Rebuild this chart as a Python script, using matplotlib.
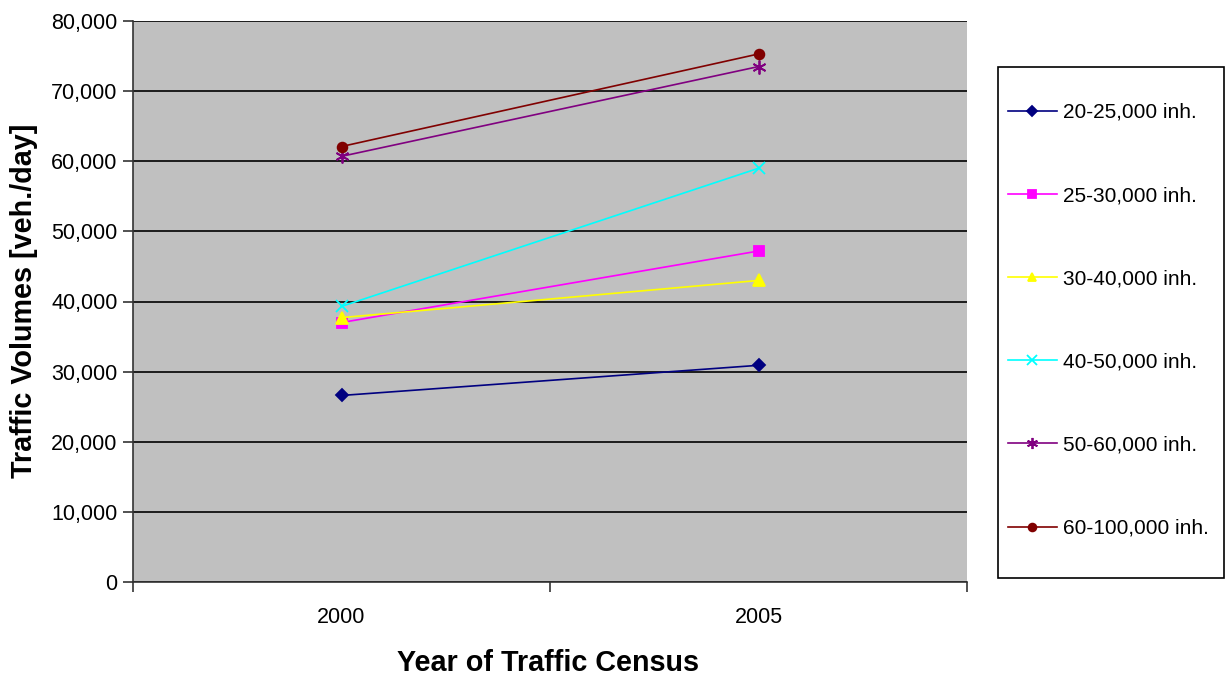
import matplotlib
matplotlib.use("Agg")
import matplotlib.pyplot as plt
from matplotlib.patches import Rectangle
from matplotlib.ticker import FuncFormatter, FixedLocator

plt.rcParams['font.family'] = ['Liberation Sans', 'DejaVu Sans']

years = ["2000", "2005"]
series_labels = ["20-25,000 inh.", "25-30,000 inh.", "30-40,000 inh.",
                 "40-50,000 inh.", "50-60,000 inh.", "60-100,000 inh."]
vol_20_25 = [26600, 30900]
vol_25_30 = [37000, 47200]
vol_30_40 = [37700, 43000]
vol_40_50 = [39300, 59000]
vol_50_60 = [60700, 73500]
vol_60_100 = [62100, 75300]
series_values = [vol_20_25, vol_25_30, vol_30_40, vol_40_50, vol_50_60, vol_60_100]

colors = ["#000080", "#FF00FF", "#FFFF00", "#00FFFF", "#800080", "#800000"]
markers = ["D", "s", "^", "x", (6, 2, 0), "o"]
msizes = [6, 7, 8, 9, 10, 7]

W, H = 1226, 678
fig = plt.figure(figsize=(W / 100, H / 100), dpi=100)
fig.patch.set_facecolor("white")
ax = fig.add_axes([133 / W, 1 - 582 / H, (967 - 133) / W, (582 - 21) / H])
ax.set_facecolor("#C0C0C0")

x = list(range(len(years)))
handles = []
for vals, lab, c, m, ms in zip(series_values, series_labels, colors, markers, msizes):
    h, = ax.plot(x, vals, color=c, lw=1.2, marker=m, markersize=ms,
                 markerfacecolor=c, markeredgecolor=c, markeredgewidth=1.3,
                 label=lab, zorder=3)
    handles.append(h)

ax.set_xlim(-0.5, 1.5)
ax.set_ylim(0, 80000)
ax.yaxis.set_major_locator(FixedLocator(range(0, 80001, 10000)))
ax.yaxis.set_major_formatter(FuncFormatter(lambda v, p: f"{int(v):,}"))
ax.grid(axis="y", color="black", lw=1.2, zorder=1)
ax.set_axisbelow(True)

# Category labels centred; tick marks at category boundaries
ax.set_xticks(x)
ax.set_xticklabels(years)
ax.tick_params(axis="x", which="major", length=0, pad=18, labelsize=15.5)
ax.set_xticks([-0.5, 0.5, 1.5], minor=True)
ax.tick_params(axis="x", which="minor", length=7, width=1.2, color="#333333")
ax.tick_params(axis="y", length=7, width=1.2, color="#333333", labelsize=15.5, pad=4)

for s in ["top", "right"]:
    ax.spines[s].set_visible(False)
for s in ["left", "bottom"]:
    ax.spines[s].set_color("#333333")
    ax.spines[s].set_linewidth(1.2)

fig.text(548 / W, 1 - 663 / H, "Year of Traffic Census", ha="center", va="center",
         fontsize=20.7, fontweight="bold")
fig.text(24 / W, 1 - 301 / H, "Traffic Volumes [veh./day]", ha="center", va="center",
         rotation=90, fontsize=20.7, fontweight="bold")

# Legend box
fig.patches.append(Rectangle((998 / W, 1 - 578 / H), (1224 - 998) / W, (578 - 67) / H,
                             transform=fig.transFigure, facecolor="white",
                             edgecolor="black", lw=1.2, zorder=0))
leg = fig.legend(handles=handles, loc="upper left",
                 bbox_to_anchor=(1008 / W, 1 - 103 / H),
                 fontsize=15, frameon=False,
                 handlelength=2.35, handletextpad=0.3, labelspacing=3.08,
                 borderpad=0, borderaxespad=0, markerscale=0.8)

fig.savefig("out.png", dpi=100)
